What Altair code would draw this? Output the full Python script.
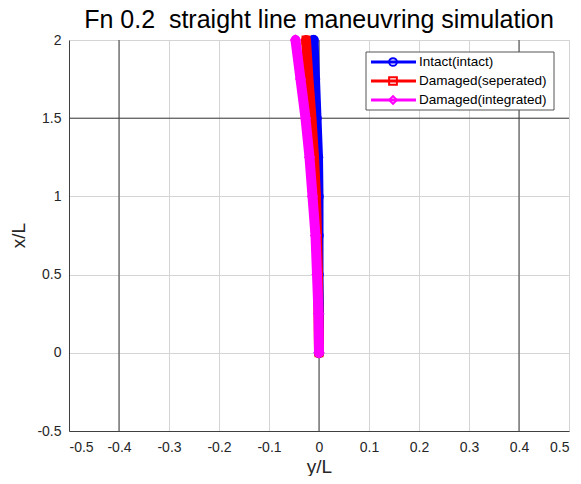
import altair as alt
import pandas as pd

# ---- data ----
xL = [0.0, 0.25, 0.5, 0.75, 1.0, 1.25, 1.5, 1.75, 2.0]
intact_yL = [0.0, 0.0, -0.001, -0.001, -0.001, -0.002, -0.005, -0.008, -0.011]
separated_yL = [0.0, -0.001, -0.002, -0.004, -0.006, -0.010, -0.015, -0.021, -0.026]
integrated_yL = [0.0, -0.001, -0.004, -0.007, -0.013, -0.019, -0.027, -0.037, -0.047]

series_names = ["Intact(intact)", "Damaged(seperated)", "Damaged(integrated)"]
series_colors = ["#0000ff", "#ff0000", "#ff00ff"]
series_shapes = ["circle", "square", "diamond"]
series_sizes = [110, 80, 130]
series_values = [intact_yL, separated_yL, integrated_yL]

x_ticks = [-0.5, -0.4, -0.3, -0.2, -0.1, 0.0, 0.1, 0.2, 0.3, 0.4, 0.5]
y_ticks = [-0.5, 0.0, 0.5, 1.0, 1.5, 2.0]
dark_x_lines = [-0.4, 0.0, 0.4]
dark_y_lines = [1.5]

FONT = "Liberation Sans"

xscale = alt.Scale(domain=[-0.5, 0.5], nice=False, zero=False)
yscale = alt.Scale(domain=[-0.5, 2.0], nice=False, zero=False)

x_axis = alt.Axis(values=x_ticks, format="~g", labelExpr="replace(datum.label, '\u2212', '-')",
                  title="y/L", titleX=250, titleY=35, titleBaseline="middle",
                  titleFontSize=19, titleFontWeight="normal", titleColor="#262626",
                  labelFontSize=14, labelColor="#262626", labelPadding=9,
                  grid=True, gridColor="#d4d4d4", ticks=False,
                  domainColor="#404040", labelFont=FONT, titleFont=FONT)
y_axis = alt.Axis(values=y_ticks, format="~g", labelExpr="replace(datum.label, '\u2212', '-')",
                  title="x/L", titleX=-51, titleY=195, titleBaseline="middle", titleAlign="center",
                  titleFontSize=19, titleFontWeight="normal", titleColor="#262626",
                  labelFontSize=14, labelColor="#262626", labelPadding=8,
                  grid=True, gridColor="#d4d4d4", ticks=False,
                  domainColor="#404040", labelFont=FONT, titleFont=FONT)

# grid base + dark reference lines
base_df = pd.DataFrame({"yL": [-0.5, 0.5], "xL": [-0.5, 2.0]})
base = alt.Chart(base_df).mark_point(opacity=0).encode(
    x=alt.X("yL:Q", scale=xscale, axis=x_axis),
    y=alt.Y("xL:Q", scale=yscale, axis=y_axis),
)
vlines = alt.Chart(pd.DataFrame({"v": dark_x_lines})).mark_rule(color="#3c3c3c", strokeWidth=1).encode(
    x=alt.X("v:Q", scale=xscale))
hlines = alt.Chart(pd.DataFrame({"h": dark_y_lines})).mark_rule(color="#3c3c3c", strokeWidth=1).encode(
    y=alt.Y("h:Q", scale=yscale))

layers = [base, vlines, hlines]
for name, col, shp, sz, vals in zip(series_names, series_colors, series_shapes, series_sizes, series_values):
    df = pd.DataFrame({"yL": vals, "xL": xL, "series": name})
    ln = alt.Chart(df).mark_line(color=col, strokeWidth=10, strokeCap="round", strokeJoin="round").encode(
        x=alt.X("yL:Q", scale=xscale), y=alt.Y("xL:Q", scale=yscale), order="xL:Q")
    pt = alt.Chart(df).mark_point(color=col, shape=shp, filled=True, size=sz, opacity=1).encode(
        x=alt.X("yL:Q", scale=xscale), y=alt.Y("xL:Q", scale=yscale))
    layers += [ln, pt]

# manual legend (pixel positions inside the plot area)
one = pd.DataFrame({"a": [0]})
box = alt.Chart(one).mark_rect(fill="white", stroke="#555555", strokeWidth=1).encode(
    x=alt.value(297), x2=alt.value(485), y=alt.value(12), y2=alt.value(70))
layers.append(box)
row_y = [22, 41, 60]
for name, col, shp, ry in zip(series_names, series_colors, series_shapes, row_y):
    layers.append(alt.Chart(one).mark_rule(color=col, strokeWidth=3).encode(
        x=alt.value(302), x2=alt.value(347), y=alt.value(ry)))
    layers.append(alt.Chart(one).mark_point(color=col, shape=shp, filled=False, size=60,
                                            strokeWidth=2, opacity=1).encode(
        x=alt.value(324), y=alt.value(ry)))
    layers.append(alt.Chart(one).mark_text(text=name, align="left", baseline="middle",
                                           font=FONT, fontSize=13.5, color="#000000").encode(
        x=alt.value(350), y=alt.value(ry)))

chart = alt.layer(*layers).properties(
    width=500, height=391,
    title=alt.TitleParams("Fn 0.2\u00a0 straight line maneuvring simulation", fontSize=25,
                          font=FONT, fontWeight="normal", anchor="middle", offset=6, dy=6,
                          color="#000000"),
    autosize=alt.AutoSizeParams(type="none"),
    padding={"left": 61, "top": 32, "right": 4, "bottom": 45},
).configure_view(stroke=None).configure(background="white")

chart.save("out.html", embed_options={"renderer": "svg", "actions": False})
